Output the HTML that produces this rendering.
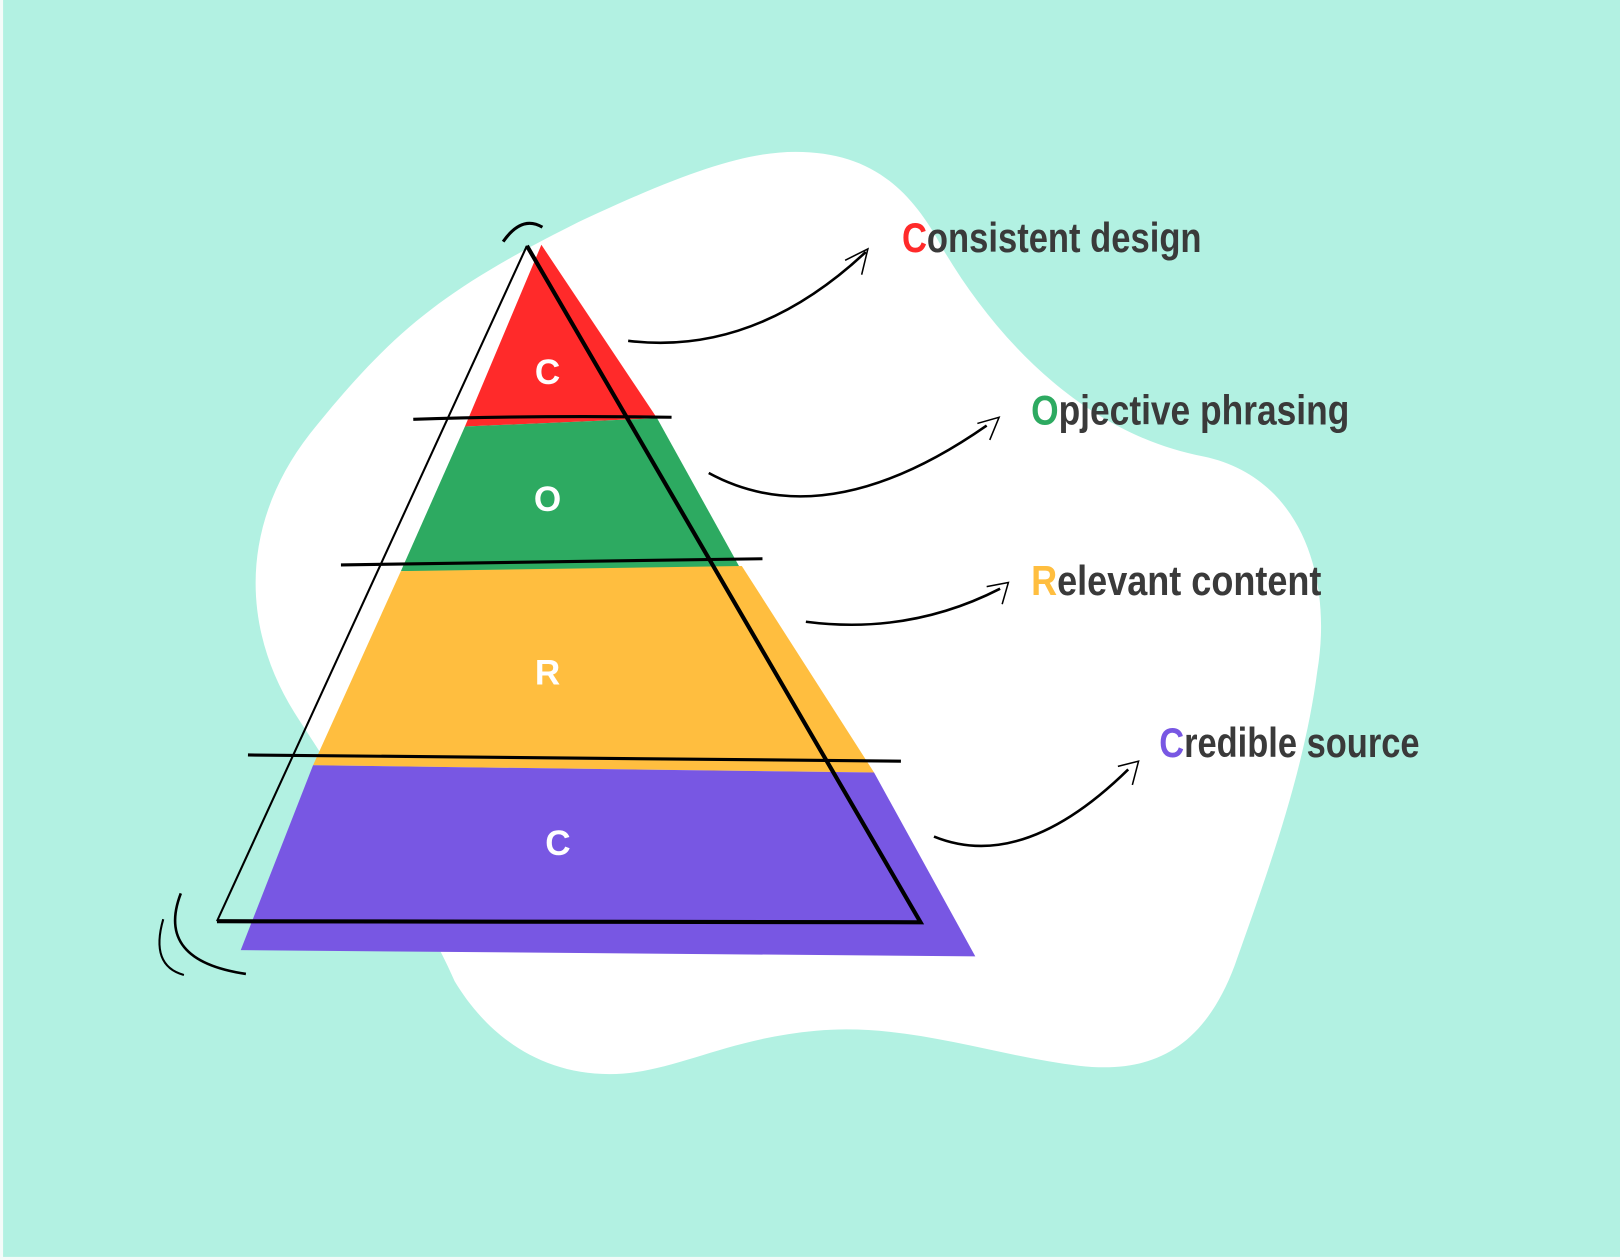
<!DOCTYPE html>
<html><head><meta charset="utf-8"><style>
html,body{margin:0;padding:0;width:1620px;height:1260px;overflow:hidden;background:#b2f1e2}
svg{display:block}
</style></head><body>
<svg width="1620" height="1260" viewBox="0 0 1568 1220" preserveAspectRatio="none" xmlns="http://www.w3.org/2000/svg">
<rect x="0" y="0" width="1568" height="1220" fill="#f4fbf9"/>
<rect x="3" y="0" width="1565" height="1217" fill="#b2f1e2"/>
<path d="M770 147 C840 147 880 180 912 240 C965 330 1050 420 1165 442 C1260 462 1290 560 1275 650 C1262 750 1225 850 1195 935 C1165 1015 1115 1040 1045 1032 C960 1022 880 990 790 998 C700 1006 650 1040 590 1040 C520 1040 470 1000 440 950 C410 880 330 760 285 690 C235 610 230 510 300 420 C380 320 430 280 560 215 C660 168 720 147 770 147 Z" fill="#ffffff"/>
<polygon points="524,237 636,405 450,413" fill="#ff2a2a"/>
<polygon points="450,413 636,405 718,553 388,553" fill="#2daa61"/>
<polygon points="388,553 718,548 846,748 303,741" fill="#ffbe3f"/>
<polygon points="303,741 846,748 944,926 233,920" fill="#7857e3"/>
<line x1="510" y1="238" x2="210" y2="892" stroke="#000" stroke-width="2"/>
<path d="M510 238 L891 893 L210 892" fill="none" stroke="#000" stroke-width="4"/>
<path d="M400 406 Q520 402 650 404" stroke="#000" stroke-width="3" fill="none"/>
<path d="M330 547 Q540 543 738 541" stroke="#000" stroke-width="3" fill="none"/>
<path d="M240 731 Q560 733 872 737" stroke="#000" stroke-width="3" fill="none"/>
<path d="M487 234 Q505 208 525 220" stroke="#000" stroke-width="3" fill="none"/>
<path d="M175 865 Q150 930 238 943" stroke="#000" stroke-width="2.5" fill="none"/>
<path d="M158 890 Q145 935 178 944" stroke="#000" stroke-width="2" fill="none"/>
<g stroke="#000" fill="none" stroke-width="2.5">
<path d="M608 330 Q730 345 838 244"/><path d="M818 252 L840 241 L834 266" stroke-width="1.5"/>
<path d="M686 458 Q800 520 955 412"/><path d="M946 410 L967 404 L958 426" stroke-width="1.5"/>
<path d="M780 602 Q880 615 968 570"/><path d="M955 568 L976 564 L970 585" stroke-width="1.5"/>
<path d="M904 810 Q990 845 1092 745"/><path d="M1082 742 L1102 737 L1096 760" stroke-width="1.5"/>
</g>
<g font-family="Liberation Sans, sans-serif" font-weight="bold" fill="#fff" font-size="34" text-anchor="middle">
<text x="530" y="372">C</text><text x="530" y="495">O</text><text x="530" y="663">R</text><text x="540" y="828">C</text>
</g>
<g font-family="Liberation Sans, sans-serif" font-weight="bold" font-size="40" fill="#3a3a3a">
<text x="873" y="244" textLength="290" lengthAdjust="spacingAndGlyphs"><tspan fill="#ff2a2a">C</tspan>onsistent design</text>
<text x="998" y="411" textLength="308" lengthAdjust="spacingAndGlyphs"><tspan fill="#2daa61">O</tspan>pjective phrasing</text>
<text x="998" y="576" textLength="281" lengthAdjust="spacingAndGlyphs"><tspan fill="#ffbe3f">R</tspan>elevant content</text>
<text x="1122" y="733" textLength="252" lengthAdjust="spacingAndGlyphs"><tspan fill="#7857e3">C</tspan>redible source</text>
</g>
</svg>
</body></html>
